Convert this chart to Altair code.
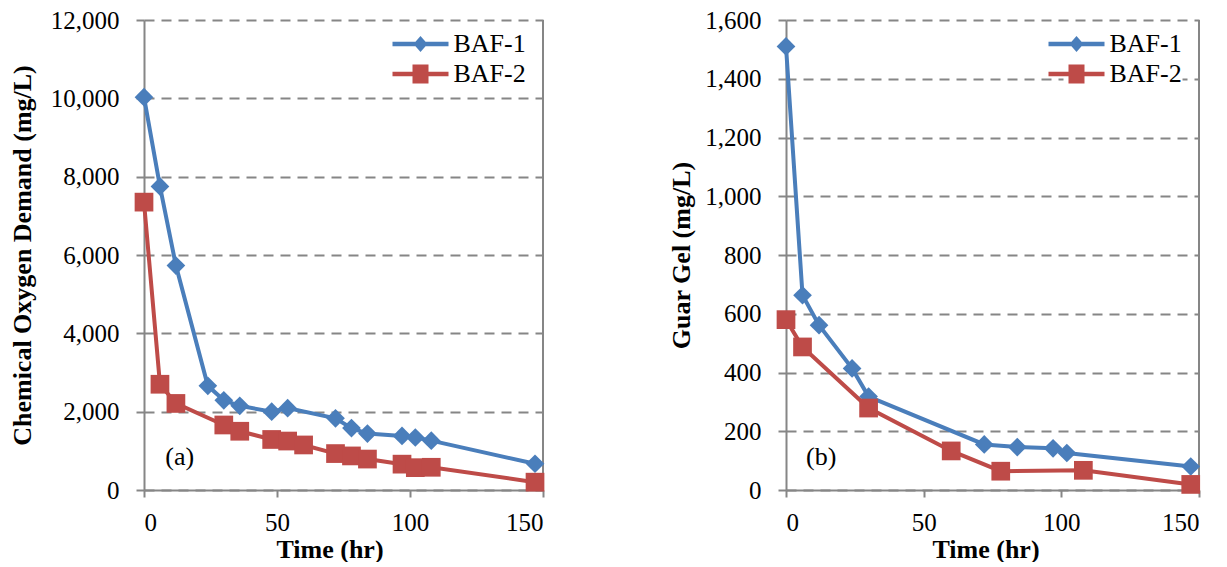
import altair as alt
import pandas as pd

# ---- data ----
series_names = ["BAF-1", "BAF-2"]

cod_t_baf1 = [0, 6, 12, 24, 30, 36, 48, 54, 72, 78, 84, 97, 102, 108, 147]
cod_v_baf1 = [10030, 7750, 5730, 2660, 2290, 2150, 2000, 2090, 1830, 1580, 1440, 1380, 1340, 1260, 670]
cod_t_baf2 = [0, 6, 12, 30, 36, 48, 54, 60, 72, 78, 84, 97, 102, 108, 147]
cod_v_baf2 = [7350, 2700, 2210, 1660, 1500, 1290, 1250, 1150, 930, 870, 790, 660, 570, 580, 200]

guar_t_baf1 = [0, 6, 12, 24, 30, 72, 84, 97, 102, 147]
guar_v_baf1 = [1510, 663, 561, 414, 318, 155, 146, 142, 126, 80]
guar_t_baf2 = [0, 6, 30, 60, 78, 108, 147]
guar_v_baf2 = [580, 487, 279, 133, 64, 67, 19]

x_ticks = [0, 50, 100, 150]
cod_y_ticks = [0, 2000, 4000, 6000, 8000, 10000, 12000]
guar_y_ticks = [0, 200, 400, 600, 800, 1000, 1200, 1400, 1600]

BLUE = "#4A7EBB"
RED = "#BE4B48"
GRAY = "#868686"
FONT = "Liberation Serif"

# legend symbols: line + marker (symbol radius = 10px, path extends beyond it)
DIAMOND_PATH = ("M-2.8,-0.22 H2.8 V0.22 H-2.8 Z "
                "M0,-0.8 L0.7,0 L0,0.8 L-0.7,0 Z")
SQUARE_PATH = ("M-2.8,-0.22 H2.8 V0.22 H-2.8 Z "
               "M-0.8,-0.95 H0.8 V0.95 H-0.8 Z")


def make_df(t1, v1, t2, v2):
    rows = [{"t": t, "v": v, "s": series_names[0]} for t, v in zip(t1, v1)]
    rows += [{"t": t, "v": v, "s": series_names[1]} for t, v in zip(t2, v2)]
    return pd.DataFrame(rows)


def panel(df, ymax, yticks, ytitle, tag, tag_t, tag_v, width, title_pad, title_shift):
    legend = alt.Legend(
        orient="none", legendX=width - 153.5 + 18, legendY=11, title=None,
        symbolSize=400, labelFont=FONT, labelFontSize=26, labelColor="black",
        labelOffset=20, padding=0, rowPadding=4, labelLimit=0,
        symbolStrokeWidth=0, symbolOpacity=1, fillColor="white",
    )
    axis_common = dict(labelFont=FONT, labelFontSize=25, labelColor="black",
                       titleFont=FONT, titleFontSize=26, titleFontWeight="bold", titleColor="black",
                       domainColor=GRAY, domainWidth=2, tickColor=GRAY, tickWidth=2)
    x = alt.X("t:Q", scale=alt.Scale(domain=[0, 150], nice=False),
              axis=alt.Axis(values=x_ticks, title="Time (hr)", grid=False, tickSize=7,
                            labelPadding=13, titlePadding=1, titleX=width / 2 - title_shift,
                            **axis_common))
    y = alt.Y("v:Q", scale=alt.Scale(domain=[0, ymax], nice=False),
              axis=alt.Axis(values=yticks, format=",d", title=ytitle, grid=True,
                            gridDash=[10, 7], gridColor=GRAY, gridWidth=2,
                            tickSize=8, labelPadding=17, titlePadding=title_pad,
                            **axis_common))
    cscale = alt.Scale(domain=series_names, range=[BLUE, RED])
    color = alt.Color("s:N", scale=cscale, legend=None)
    shape = alt.Shape("s:N", scale=alt.Scale(domain=series_names, range=["diamond", "square"]), legend=None)

    base = alt.Chart(df)
    lines = base.mark_line(strokeWidth=4).encode(x=x, y=y, color=color)
    pts = base.mark_point(filled=True, opacity=1, size=350).encode(x=x, y=y, color=color, shape=shape)

    # legend-only layer (no rows drawn), symbols are line + marker paths
    leg = base.transform_filter("false").mark_point(filled=True).encode(
        color=alt.Color("s:N", scale=cscale, legend=legend),
        shape=alt.Shape("s:N", scale=alt.Scale(domain=series_names, range=[DIAMOND_PATH, SQUARE_PATH]),
                        legend=legend),
    )

    tag_df = pd.DataFrame({"label": [tag], "t": [tag_t], "v": [tag_v]})
    text = alt.Chart(tag_df).mark_text(font=FONT, fontSize=26, align="left", baseline="middle",
                                       color="black").encode(
        x=alt.X("t:Q"), y=alt.Y("v:Q"), text="label:N")
    border = alt.Chart(tag_df).mark_rule(color=GRAY, strokeWidth=2).encode(x=alt.datum(150))

    return alt.layer(border, lines, pts, text, leg).resolve_scale(
        color="independent", shape="independent"
    ).properties(width=width, height=470)


left = panel(make_df(cod_t_baf1, cod_v_baf1, cod_t_baf2, cod_v_baf2), 12000, cod_y_ticks,
             "Chemical Oxygen Demand (mg/L)", "(a)", 8, 830, 399, 15, 14)
right = panel(make_df(guar_t_baf1, guar_v_baf1, guar_t_baf2, guar_v_baf2), 1600, guar_y_ticks,
              "Guar Gel (mg/L)", "(b)", 7.3, 112, 413, 10, 7)

chart = alt.hconcat(left, right, spacing=123).properties(
    padding={"left": 1, "top": 0, "right": 0, "bottom": 0}
).configure_view(stroke=None)

chart.save("out.html", embed_options={"renderer": "svg", "actions": False})
